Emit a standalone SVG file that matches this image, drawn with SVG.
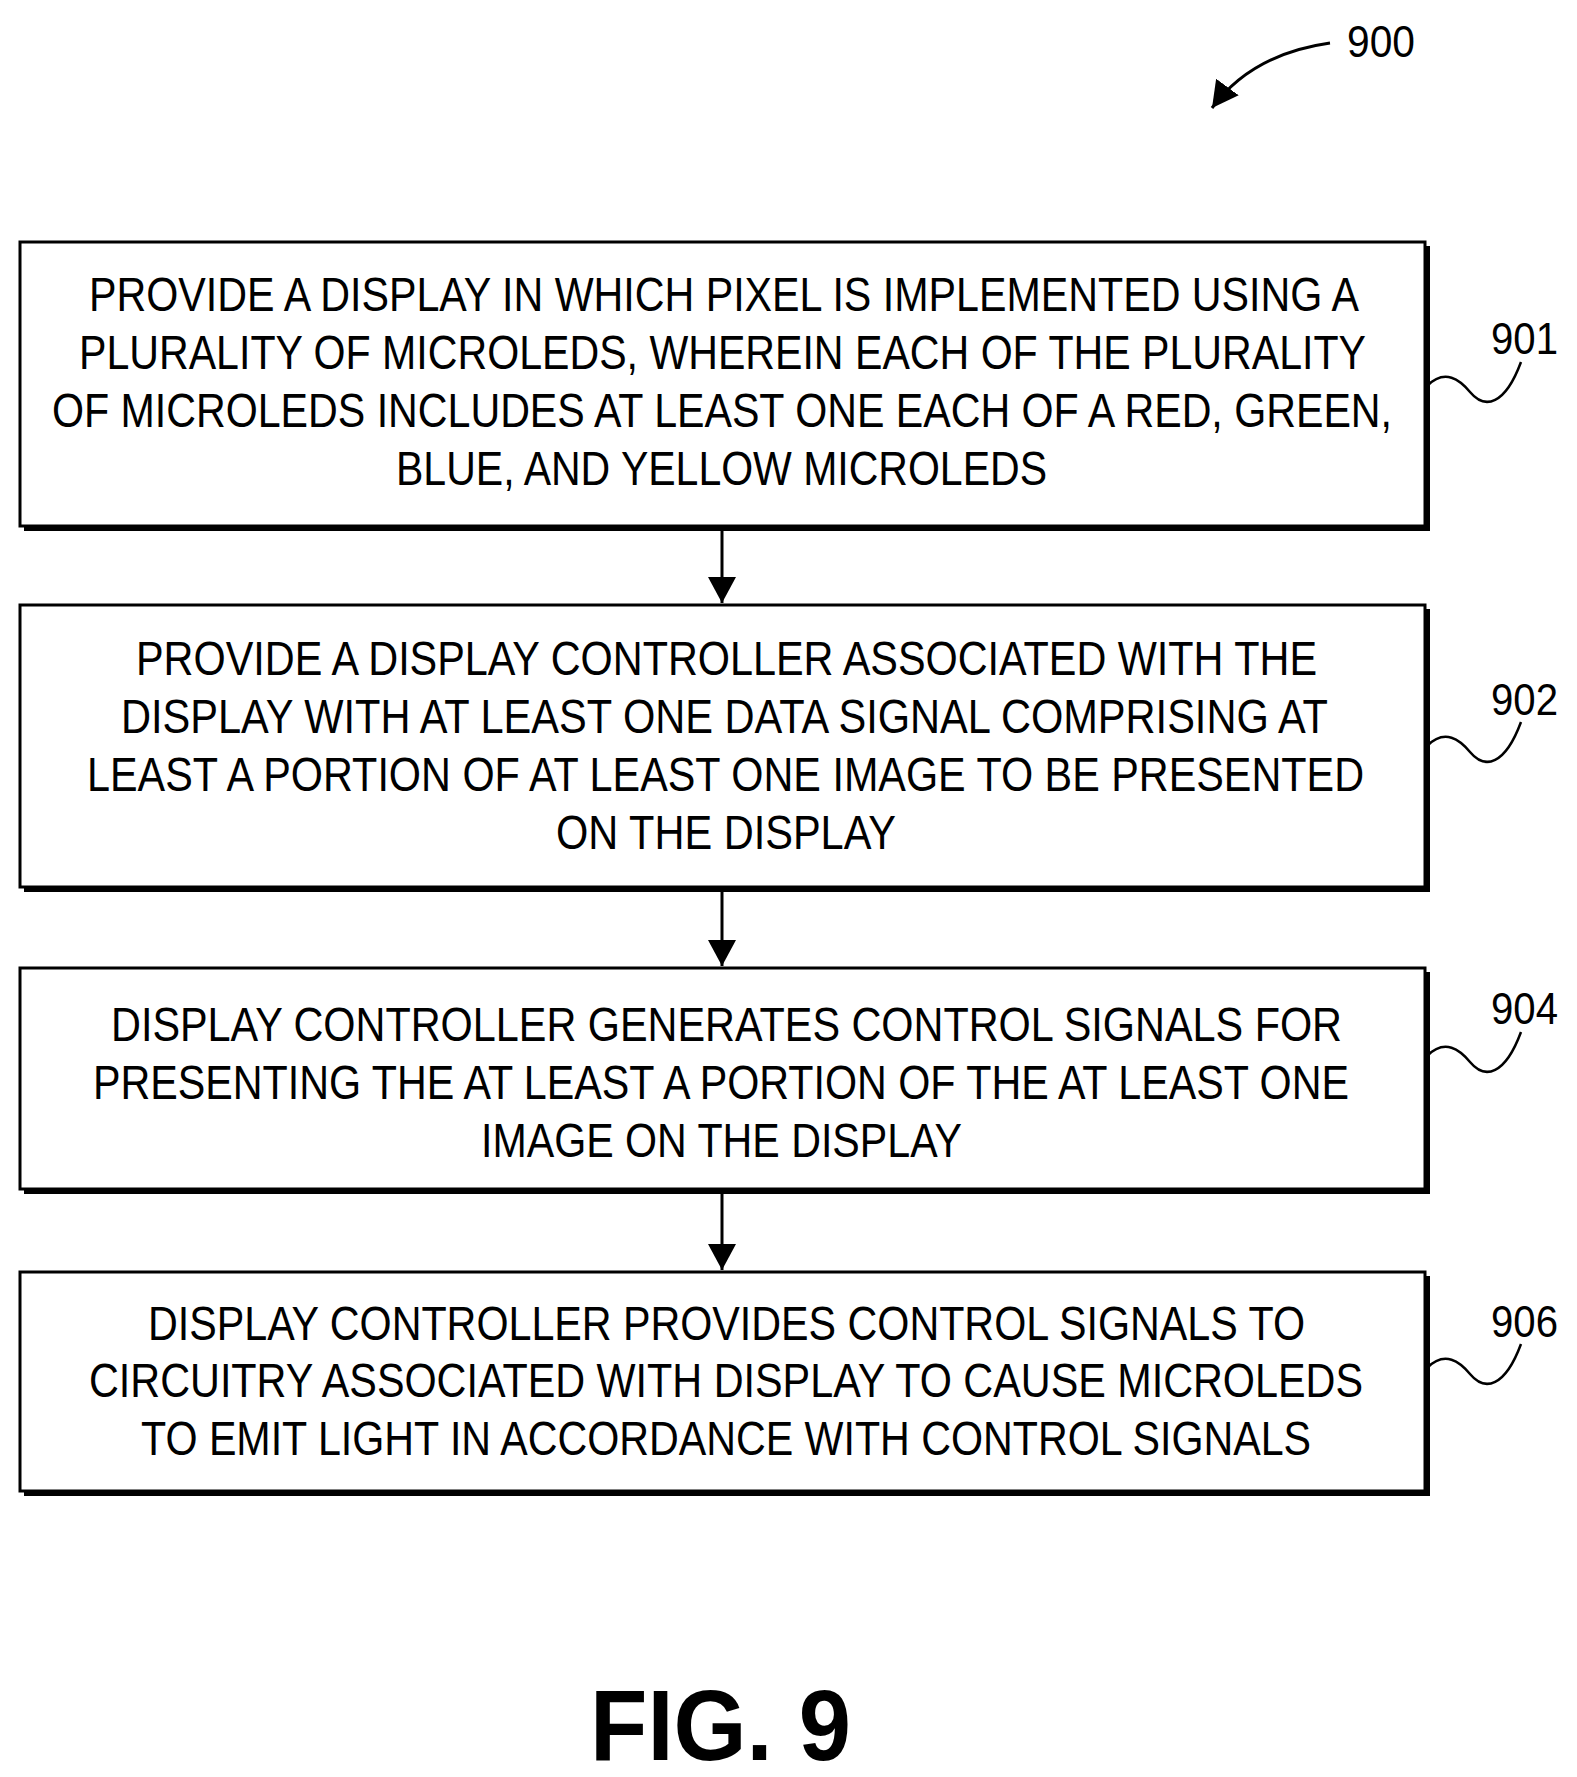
<svg xmlns="http://www.w3.org/2000/svg" width="1577" height="1777" viewBox="0 0 1577 1777">
<style>
.box{fill:#fff;stroke:#000;stroke-width:3}
.sh{fill:#000}
.t{font-family:"Liberation Sans",Arial,sans-serif;font-size:48px;fill:#000}
.lb{font-family:"Liberation Sans",Arial,sans-serif;font-size:44px;fill:#000}
.sq{fill:none;stroke:#000;stroke-width:2.5}
.ar{stroke:#000;stroke-width:3;fill:none}
</style>
<defs>
<marker id="ah" markerWidth="10" markerHeight="10" refX="9" refY="5" orient="auto" markerUnits="userSpaceOnUse" viewBox="0 0 10 10"><path d="M0,0 L10,5 L0,10 z"/></marker>
<marker id="ah2" markerWidth="26" markerHeight="28" refX="26" refY="14" orient="auto" markerUnits="userSpaceOnUse" viewBox="0 0 26 28"><path d="M0,0 L26,14 L0,28 z"/></marker>
</defs>
<rect width="1577" height="1777" fill="#fff"/>
<g id="ref900">
<text class="lb" x="1347" y="57" textLength="68" lengthAdjust="spacingAndGlyphs">900</text>
<path d="M1330,43 C1280,50 1240,70 1212,108" class="ar" stroke-width="4" marker-end="url(#ah2)"/>
</g>
<g id="n901">
<rect class="sh" x="24" y="246" width="1406" height="285"/>
<rect class="box" x="20" y="242" width="1405" height="284"/>
<text class="t" x="89" y="311" textLength="1270" lengthAdjust="spacingAndGlyphs">PROVIDE A DISPLAY IN WHICH PIXEL IS IMPLEMENTED USING A</text>
<text class="t" x="79" y="369" textLength="1287" lengthAdjust="spacingAndGlyphs">PLURALITY OF MICROLEDS, WHEREIN EACH OF THE PLURALITY</text>
<text class="t" x="52" y="427" textLength="1340" lengthAdjust="spacingAndGlyphs">OF MICROLEDS INCLUDES AT LEAST ONE EACH OF A RED, GREEN,</text>
<text class="t" x="396" y="485" textLength="651" lengthAdjust="spacingAndGlyphs">BLUE, AND YELLOW MICROLEDS</text>
<text class="lb" x="1491" y="354" textLength="67" lengthAdjust="spacingAndGlyphs">901</text>
<path class="sq" d="M1427,386 C1445,368 1460,380 1470,392 C1485,410 1505,405 1521,362"/>
</g>
<g id="n902">
<rect class="sh" x="24" y="609" width="1406" height="283"/>
<rect class="box" x="20" y="605" width="1405" height="282"/>
<text class="t" x="136" y="675" textLength="1181" lengthAdjust="spacingAndGlyphs">PROVIDE A DISPLAY CONTROLLER ASSOCIATED WITH THE</text>
<text class="t" x="121" y="733" textLength="1207" lengthAdjust="spacingAndGlyphs">DISPLAY WITH AT LEAST ONE DATA SIGNAL COMPRISING AT</text>
<text class="t" x="87" y="791" textLength="1277" lengthAdjust="spacingAndGlyphs">LEAST A PORTION OF AT LEAST ONE IMAGE TO BE PRESENTED</text>
<text class="t" x="556" y="849" textLength="340" lengthAdjust="spacingAndGlyphs">ON THE DISPLAY</text>
<text class="lb" x="1491" y="715" textLength="67" lengthAdjust="spacingAndGlyphs">902</text>
<path class="sq" d="M1427,746 C1445,728 1460,740 1470,752 C1485,770 1505,765 1521,722"/>
</g>
<g id="n904">
<rect class="sh" x="24" y="972" width="1406" height="222"/>
<rect class="box" x="20" y="968" width="1405" height="221"/>
<text class="t" x="111" y="1041" textLength="1231" lengthAdjust="spacingAndGlyphs">DISPLAY CONTROLLER GENERATES CONTROL SIGNALS FOR</text>
<text class="t" x="93" y="1099" textLength="1256" lengthAdjust="spacingAndGlyphs">PRESENTING THE AT LEAST A PORTION OF THE AT LEAST ONE</text>
<text class="t" x="481" y="1157" textLength="481" lengthAdjust="spacingAndGlyphs">IMAGE ON THE DISPLAY</text>
<text class="lb" x="1491" y="1024" textLength="67" lengthAdjust="spacingAndGlyphs">904</text>
<path class="sq" d="M1427,1056 C1445,1038 1460,1050 1470,1062 C1485,1080 1505,1075 1521,1032"/>
</g>
<g id="n906">
<rect class="sh" x="24" y="1276" width="1406" height="220"/>
<rect class="box" x="20" y="1272" width="1405" height="219"/>
<text class="t" x="148" y="1340" textLength="1157" lengthAdjust="spacingAndGlyphs">DISPLAY CONTROLLER PROVIDES CONTROL SIGNALS TO</text>
<text class="t" x="89" y="1397" textLength="1274" lengthAdjust="spacingAndGlyphs">CIRCUITRY ASSOCIATED WITH DISPLAY TO CAUSE MICROLEDS</text>
<text class="t" x="141" y="1455" textLength="1170" lengthAdjust="spacingAndGlyphs">TO EMIT LIGHT IN ACCORDANCE WITH CONTROL SIGNALS</text>
<text class="lb" x="1491" y="1337" textLength="67" lengthAdjust="spacingAndGlyphs">906</text>
<path class="sq" d="M1427,1368 C1445,1350 1460,1362 1470,1374 C1485,1392 1505,1387 1521,1344"/>
</g>
<g id="connectors">
<line class="ar" x1="722" y1="529" x2="722" y2="603" marker-end="url(#ah2)"/>
<line class="ar" x1="722" y1="891" x2="722" y2="966" marker-end="url(#ah2)"/>
<line class="ar" x1="722" y1="1193" x2="722" y2="1270" marker-end="url(#ah2)"/>
</g>
<text x="590" y="1760" font-family="Liberation Sans,Arial,sans-serif" font-weight="bold" font-size="100" textLength="261" lengthAdjust="spacingAndGlyphs">FIG. 9</text>
</svg>
